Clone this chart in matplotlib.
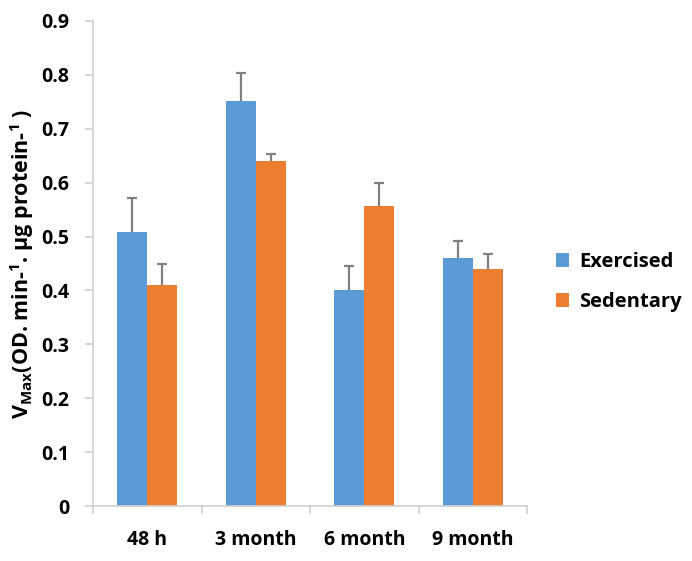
import numpy as np
import matplotlib
matplotlib.use("Agg")
import matplotlib.pyplot as plt

categories = ["48 h", "3 month", "6 month", "9 month"]
exercised = [0.509, 0.752, 0.401, 0.461]
exercised_err = [0.062, 0.052, 0.044, 0.031]
sedentary = [0.410, 0.640, 0.557, 0.440]
sedentary_err = [0.039, 0.013, 0.043, 0.028]

plt.rcParams['font.family'] = ['Open Sans', 'DejaVu Sans']

fig = plt.figure(figsize=(6.92, 5.61), dpi=100)
ax = fig.add_axes([93/692, 1-506/561, (527-93)/692, (506-21)/561])

x = np.arange(len(categories))
w = 0.278
err_kw = dict(ecolor='#808080', elinewidth=1.6, capsize=3.5, capthick=1.6)
b1 = ax.bar(x - w/2, exercised, w, color='#5B9BD5', label='Exercised',
            yerr=[np.zeros(4), exercised_err], error_kw=err_kw)
b2 = ax.bar(x + w/2, sedentary, w, color='#ED7D31', label='Sedentary',
            yerr=[np.zeros(4), sedentary_err], error_kw=err_kw)
# only the upper cap
for b in (b1, b2):
    b.errorbar.lines[1][0].set_visible(False)

ax.set_xlim(-0.5, len(categories) - 0.5)
ax.set_ylim(0, 0.9)
ax.set_yticks(np.arange(0, 0.91, 0.1))
ax.set_yticklabels(["0"] + ["%.1f" % v for v in np.arange(0.1, 0.91, 0.1)],
                   fontsize=14, fontweight='bold')
ax.set_xticks(x)
ax.set_xticklabels(categories, fontsize=14, fontweight='bold')
ax.set_xticks(np.arange(-0.5, len(categories), 1), minor=True)
ax.tick_params(axis='x', which='major', length=0, pad=17)
ax.tick_params(axis='x', which='minor', length=6, color='#d0d0d0', width=1.2)
ax.tick_params(axis='y', length=6, color='#d0d0d0', width=1.2, pad=11)

for s in ['top', 'right']:
    ax.spines[s].set_visible(False)
for s in ['bottom', 'left']:
    ax.spines[s].set_color('#d0d0d0')
    ax.spines[s].set_linewidth(1.2)

ax.set_ylabel(r"V$_{\mathregular{Max}}$(OD. min-$^{\mathregular{1}}$. µg protein-$^{\mathregular{1}}$ )",
              fontsize=15.5, fontweight='bold', labelpad=4)

fig.legend(loc='center left', bbox_to_anchor=(538/692, 1-282/561), frameon=False,
           prop={'size': 14.5, 'weight': 'bold'}, handlelength=0.65, handleheight=0.65,
           handletextpad=0.5, labelspacing=1.0)

fig.savefig("out.png", dpi=100)
